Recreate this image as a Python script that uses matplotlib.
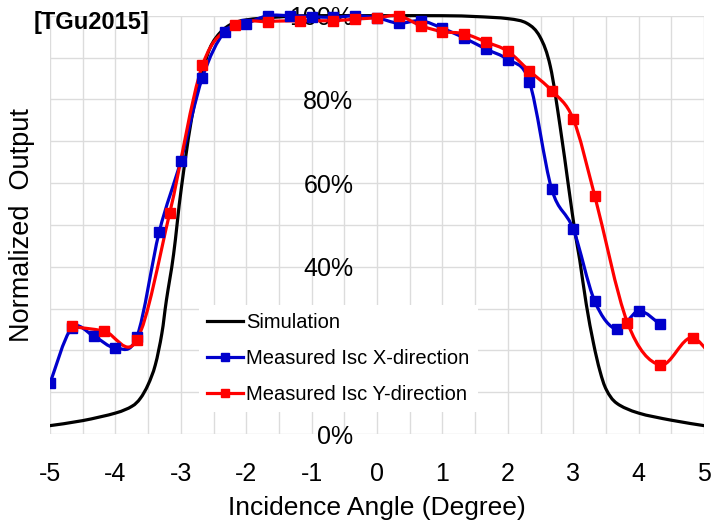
import numpy as np
import matplotlib.pyplot as plt
from matplotlib.path import Path
from matplotlib.patches import PathPatch, Rectangle
from matplotlib.lines import Line2D

plt.rcParams['font.family'] = ['Liberation Sans', 'DejaVu Sans']
plt.rcParams['axes.unicode_minus'] = False

# simulated curve
sim_x = [-5, -4.5, -4, -3.75, -3.62, -3.5, -3.39, -3.29, -3.22, -3.11, -2.99, -2.81,
         -2.6, -2.45, -2.25, -2, -1.5, -1, 0, 1, 1.5, 2, 2.29, 2.49, 2.65, 2.8, 2.93,
         3.03, 3.1, 3.2, 3.31, 3.41, 3.51, 3.67, 4, 4.5, 5]
sim_y = [0.02, 0.032, 0.05, 0.066, 0.085, 0.118, 0.165, 0.24, 0.32, 0.43, 0.59, 0.775,
         0.903, 0.95, 0.978, 0.99, 0.997, 1.0, 1.0, 1.0, 0.998, 0.993, 0.982, 0.95, 0.879,
         0.735, 0.59, 0.48, 0.416, 0.31, 0.217, 0.15, 0.105, 0.073, 0.05, 0.033, 0.02]

# measured Isc, X-direction
xdir_x = [-5, -4.67, -4.33, -4, -3.67, -3.33, -3, -2.67, -2.33, -2, -1.67, -1.33, -1,
          -0.67, -0.33, 0, 0.33, 0.67, 1, 1.33, 1.67, 2, 2.33, 2.67, 3, 3.33, 3.67, 4, 4.33]
xdir_y = [0.121, 0.253, 0.234, 0.206, 0.233, 0.483, 0.653, 0.852, 0.962, 0.981, 1.0, 1.0,
          0.998, 0.996, 1.0, 0.995, 0.982, 0.988, 0.97, 0.947, 0.92, 0.895, 0.842, 0.586,
          0.49, 0.317, 0.25, 0.294, 0.262]

# measured Isc, Y-direction
ydir_x = [-4.67, -4.17, -3.67, -3.17, -2.67, -2.17, -1.67, -1.17, -0.67, -0.33, 0, 0.33,
          0.67, 1, 1.33, 1.67, 2, 2.33, 2.67, 3, 3.33, 3.83, 4.33, 4.83, 5.33]
ydir_y = [0.257, 0.246, 0.225, 0.528, 0.881, 0.978, 0.986, 0.988, 0.988, 0.992, 0.995, 1.0,
          0.976, 0.962, 0.957, 0.937, 0.915, 0.868, 0.821, 0.753, 0.569, 0.266, 0.165, 0.23, 0.13]

x_ticks = [-5, -4, -3, -2, -1, 0, 1, 2, 3, 4, 5]
y_ticks = [0, 0.2, 0.4, 0.6, 0.8, 1.0]
y_labels = ['0%', '', '40%', '60%', '80%', '100%']   # 20% sits under the legend

BLUE = '#0000cc'
RED = '#ff0000'


def smooth_path(x, y):
    # excel-like smoothed line: cubic bezier through every point
    p = np.column_stack([x, y]).astype(float)
    n = len(p)
    verts = [p[0]]
    codes = [Path.MOVETO]
    for i in range(n - 1):
        p0 = p[max(i - 1, 0)]
        p1 = p[i]
        p2 = p[i + 1]
        p3 = p[min(i + 2, n - 1)]
        verts += [p1 + (p2 - p0) / 6, p2 - (p3 - p1) / 6, p2]
        codes += [Path.CURVE4] * 3
    return Path(verts, codes)


fig = plt.figure(figsize=(7.13, 5.25), dpi=100)
ax = fig.add_axes([50 / 713, 91 / 525, 654 / 713, 418.3 / 525])
ax.set_xlim(-5, 5)
ax.set_ylim(0, 1)

# clip only left/right, let markers poke above 100%
clip = Rectangle((0, -0.1), 1, 1.2, transform=ax.transAxes, visible=False)

for xs, ys, c in [(sim_x, sim_y, 'black'), (xdir_x, xdir_y, BLUE), (ydir_x, ydir_y, RED)]:
    pp = PathPatch(smooth_path(xs, ys), fill=False, edgecolor=c, lw=2.3,
                   transform=ax.transData, zorder=3, capstyle='round', joinstyle='round')
    ax.add_patch(pp)
    pp.set_clip_path(clip)

for xs, ys, c in [(xdir_x, xdir_y, BLUE), (ydir_x, ydir_y, RED)]:
    m, = ax.plot(xs, ys, ls='none', marker='s', ms=7.5, color=c, zorder=4)
    m.set_clip_path(clip)

ax.set_xticks(x_ticks)
ax.set_xticks(np.arange(-5, 5.01, 0.5), minor=True)
ax.set_yticks(y_ticks)
ax.set_yticklabels(y_labels)
ax.set_yticks(np.arange(0, 1.01, 0.1), minor=True)
ax.grid(True, which='both', color='#dcdcdc', lw=1)
ax.set_axisbelow(True)
for s in ax.spines.values():
    s.set_visible(False)
ax.spines['left'].set_position(('data', 0))
ax.tick_params(axis='both', which='both', length=0, labelsize=18)
ax.tick_params(axis='x', pad=20)
ax.tick_params(axis='y', pad=17)

ax.set_xlabel('Incidence Angle (Degree)', fontsize=19, labelpad=7)
fig.text(22 / 713, 1 - 225 / 525, 'Normalized  Output', rotation=90, fontsize=19.5,
         ha='center', va='center')
fig.text(34 / 713, 1 - 23 / 525, '[TGu2015]', fontsize=17, fontweight='bold',
         ha='left', va='center')

handles = [Line2D([], [], color='black', lw=2.3),
           Line2D([], [], color=BLUE, lw=2.3, marker='s', ms=5.5),
           Line2D([], [], color=RED, lw=2.3, marker='s', ms=5.5)]
labels = ['Simulation', 'Measured Isc X-direction', 'Measured Isc Y-direction']
leg = fig.legend(handles, labels, loc='upper left', bbox_to_anchor=(189 / 713, 1 - 295 / 525),
                 fontsize=14.5, handlelength=1.8, handletextpad=0.15, labelspacing=0.85,
                 borderpad=0.4, frameon=True, facecolor='white', edgecolor='none',
                 framealpha=1, fancybox=False)

fig.savefig('out.png', dpi=100)
